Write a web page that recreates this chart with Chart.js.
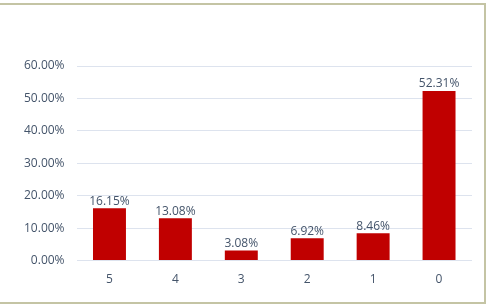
<!DOCTYPE html>
<html>
<head>
<meta charset="utf-8">
<script src="https://cdn.jsdelivr.net/npm/chart.js@4.4.1/dist/chart.umd.min.js"></script>
<style>
    html, body { margin: 0; padding: 0; background: #ffffff; }
    body { width: 491px; height: 307px; position: relative; overflow: hidden; }
    .frame {
        position: absolute; left: -3px; top: 3px;
        width: 485px; height: 297px;
        border: 2px solid #c4c4a4;
        background: #ffffff;
    }
    .chart-box { position: absolute; left: 3px; top: 0; width: 482px; height: 297px; }
</style>
</head>
<body>
<div class="frame">
    <div class="chart-box"><canvas id="scoreChart"></canvas></div>
</div>
<script>
// Chart data
const categories = ['5', '4', '3', '2', '1', '0'];
const shares = [16.15, 13.08, 3.08, 6.92, 8.46, 52.31];
const yTicks = [0, 10, 20, 30, 40, 50, 60];

const TEXT_COLOR = '#44546a';
const BAR_COLOR = '#c00000';
const FONT = "'Open Sans', 'Liberation Sans', sans-serif";

// Value labels above each bar
const valueLabels = {
    id: 'valueLabels',
    afterDatasetsDraw(chart) {
        const ctx = chart.ctx;
        const meta = chart.getDatasetMeta(0);
        ctx.save();
        ctx.font = '12px ' + FONT;
        ctx.fillStyle = TEXT_COLOR;
        ctx.textAlign = 'center';
        ctx.textBaseline = 'bottom';
        meta.data.forEach((bar, i) => {
            ctx.fillText(shares[i].toFixed(2) + '%', bar.x, bar.y - 1);
        });
        ctx.restore();
    }
};

new Chart(document.getElementById('scoreChart'), {
    type: 'bar',
    data: {
        labels: categories,
        datasets: [{
            data: shares,
            backgroundColor: BAR_COLOR,
            borderWidth: 0,
            categoryPercentage: 1,
            barPercentage: 0.5
        }]
    },
    options: {
        responsive: true,
        maintainAspectRatio: false,
        animation: false,
        layout: { padding: { left: 10, right: 12, top: 61, bottom: 11 } },
        plugins: {
            legend: { display: false },
            tooltip: { enabled: false }
        },
        scales: {
            y: {
                min: 0,
                max: 60,
                afterBuildTicks(axis) {
                    axis.ticks = yTicks.map(v => ({ value: v }));
                },
                border: { display: false },
                grid: { color: '#dde3ee', lineWidth: 1, drawTicks: false },
                ticks: {
                    color: TEXT_COLOR,
                    font: { size: 12, family: FONT },
                    padding: 12,
                    callback: v => v.toFixed(2) + '%'
                }
            },
            x: {
                border: { display: false },
                grid: { display: false },
                ticks: {
                    color: TEXT_COLOR,
                    font: { size: 12, family: FONT },
                    padding: 4
                }
            }
        }
    },
    plugins: [valueLabels]
});
</script>
</body>
</html>
